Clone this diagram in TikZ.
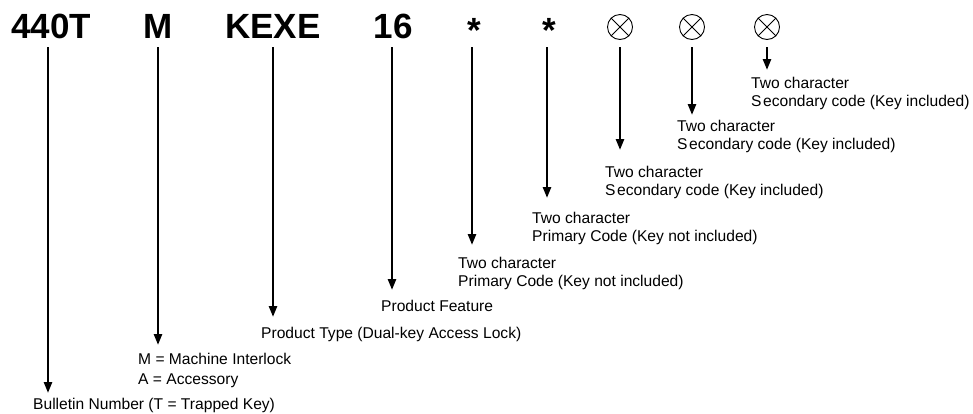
\documentclass[tikz,border=0pt]{standalone}
\usepackage{fontspec}
\setmainfont{Liberation Sans}
\usetikzlibrary{arrows.meta}
\newcommand{\secword}{S\hspace{0.1em}econdary}
\begin{document}
\begin{tikzpicture}[x=1pt,y=-1pt,
  code/.style={font=\fontsize{35}{35}\selectfont\bfseries, inner sep=0pt, anchor=base},
  lbl/.style={font=\fontsize{15.6}{18}\selectfont, inner sep=0pt, anchor=base west, align=left},
  arr/.style={line width=2.5pt, -{Triangle[width=8pt,length=11pt]}},
  otimesnode/.style={circle, draw, line width=0.9pt, minimum size=25pt, inner sep=0pt,
    path picture={\draw[line width=0.9pt]
      (path picture bounding box.north west) -- (path picture bounding box.south east)
      (path picture bounding box.north east) -- (path picture bounding box.south west);}}]
\useasboundingbox (0,0) rectangle (973,413);

% codes
\node[code] (c1) at (51,38) {440T};
\node[code] (c2) at (158,38) {M};
\node[code] (c3) at (273,38) {KEXE};
\node[code] (c4) at (393,38) {16};
\node[code] (c5) at (474,42) {*};
\node[code] (c6) at (549,42) {*};
\node[otimesnode] (c7) at (620,27) {};
\node[otimesnode] (c8) at (692,27) {};
\node[otimesnode] (c9) at (767,27) {};

% labels (base anchor = baseline of the last line)
\node[lbl] (l1) at (33,409) {Bulletin Number (T = Trapped Key)};
\node[lbl, font=\fontsize{15.6}{20}\selectfont] (l2) at (138,384) {M = Machine Interlock\\A = Accessory};
\node[lbl] (l3) at (261,338) {Product Type (Dual-key Access Lock)};
\node[lbl] (l4) at (381,311) {Product Feature};
\node[lbl] (l5) at (458,286) {Two character\\Primary Code (Key not included)};
\node[lbl] (l6) at (532,241) {Two character\\Primary Code (Key not included)};
\node[lbl] (l7) at (605,195) {Two character\\\secword{} code (Key included)};
\node[lbl] (l8) at (677,149) {Two character\\\secword{} code (Key included)};
\node[lbl] (l9) at (751,106) {Two character\\\secword{} code (Key included)};

% arrow start and tip coordinates
\coordinate (s1) at (48,47);   \coordinate (t1) at (48,393);
\coordinate (s2) at (158,47);  \coordinate (t2) at (158,345);
\coordinate (s3) at (273,47);  \coordinate (t3) at (273,317);
\coordinate (s4) at (392,47);  \coordinate (t4) at (392,290);
\coordinate (s5) at (472,47);  \coordinate (t5) at (472,245);
\coordinate (s6) at (547,47);  \coordinate (t6) at (547,198);
\coordinate (s7) at (620,47);  \coordinate (t7) at (620,150);
\coordinate (s8) at (692,47);  \coordinate (t8) at (692,115);
\coordinate (s9) at (767,47);  \coordinate (t9) at (767,70);

\foreach \i in {1,...,9} {\draw[arr] (s\i) -- (t\i);}
\end{tikzpicture}
\end{document}
